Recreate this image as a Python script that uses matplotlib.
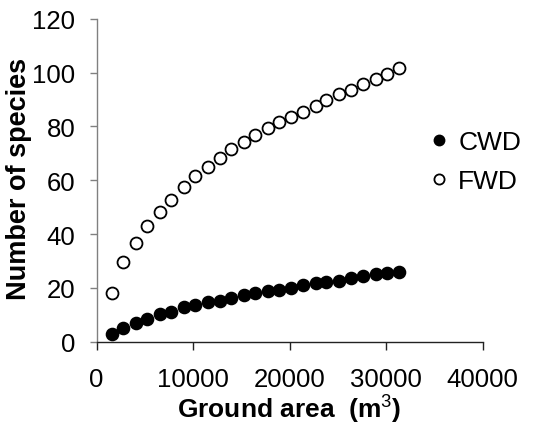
import numpy as np
import matplotlib
matplotlib.use("Agg")
import matplotlib.pyplot as plt


# Data
ground_area = [1600, 2750, 4050, 5250, 6550, 7700, 9000, 10200, 11500, 12750,
               13950, 15250, 16400, 17700, 18900, 20150, 21350, 22700, 23800,
               25100, 26400, 27600, 28900, 30100, 31300]

cwd_species = [2.8, 4.9, 6.9, 8.6, 10.2, 11.2, 12.7, 13.7, 14.8, 15.2,
               16.4, 17.4, 18.0, 18.9, 19.3, 19.9, 21.1, 21.7, 22.0,
               22.6, 23.5, 24.3, 25.1, 25.5, 26.0]

fwd_species = [17.9, 29.5, 36.7, 42.9, 48.1, 52.7, 57.4, 61.7, 64.8, 68.4,
               71.5, 74.2, 76.8, 79.4, 81.6, 83.4, 85.3, 87.7, 89.9,
               92.1, 93.6, 95.8, 97.7, 99.4, 101.7]

x_ticks = [0, 10000, 20000, 30000, 40000]
y_ticks = [0, 20, 40, 60, 80, 100, 120]


# Fonts
plt.rcParams['font.family'] = ['Liberation Sans', 'DejaVu Sans']
plt.rcParams['mathtext.fontset'] = 'custom'
plt.rcParams['mathtext.rm'] = 'Liberation Sans'
plt.rcParams['mathtext.it'] = 'Liberation Sans'
plt.rcParams['mathtext.bf'] = 'Liberation Sans:bold'


# Figure
fig = plt.figure(figsize=(5.4, 4.31), dpi=100)
ax = fig.add_axes([0.179, 0.205, 0.715, 0.749])

ax.plot(ground_area, cwd_species, 'o', color='black', markersize=8.6,
        markeredgewidth=1.2, label='CWD', clip_on=False)
ax.plot(ground_area, fwd_species, 'o', markerfacecolor='white',
        markeredgecolor='black', markersize=8.6, markeredgewidth=1.3,
        label='FWD', clip_on=False)

ax.set_xlim(0, 40000)
ax.set_ylim(0, 120)
ax.set_xticks(x_ticks)
ax.set_yticks(y_ticks)

# Spines
ax.spines['top'].set_visible(False)
ax.spines['right'].set_visible(False)
ax.spines['left'].set_color('#808080')
ax.spines['left'].set_linewidth(1.0)
ax.spines['bottom'].set_color('#222222')
ax.spines['bottom'].set_linewidth(1.0)

ax.tick_params(axis='y', direction='out', length=4.8, width=1.0,
               color='#808080', labelsize=18.5, pad=10.5)
ax.tick_params(axis='x', direction='out', length=5.5, width=1.0,
               color='#222222', labelsize=18.5, pad=13)

ax.set_xlabel('Ground area  (m$^{3}$)', fontsize=19, fontweight='bold',
              labelpad=1)
ax.set_ylabel('Number of species', fontsize=19.5, fontweight='bold')
ax.yaxis.set_label_coords(-0.2, 0.507)
ax.yaxis.label.set_verticalalignment('center')

# Legend
ax.legend(loc='center left', bbox_to_anchor=(0.773, 0.623),
          bbox_transform=fig.transFigure, frameon=False, fontsize=19,
          markerscale=0.85, handlelength=0.6, handletextpad=0.45,
          labelspacing=0.58, borderpad=0)

fig.savefig('out.png', dpi=100)
